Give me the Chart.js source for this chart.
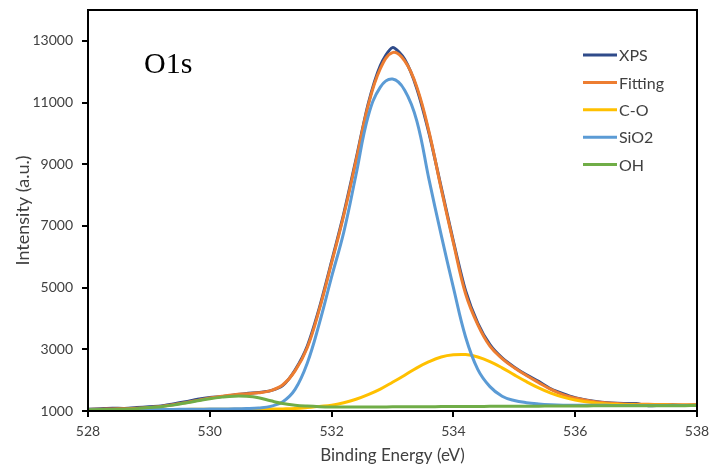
<!DOCTYPE html>
<html>
<head>
<meta charset="utf-8">
<script src="https://cdn.jsdelivr.net/npm/chart.js@4.4.1/dist/chart.umd.min.js"></script>
<style>
  html, body { margin: 0; padding: 0; background: #ffffff; }
  canvas { display: block; }
</style>
</head>
<body>
<canvas id="c" width="711" height="468"></canvas>
<script>
// ---- Data ----
const energies = [528.0,528.2,528.4,528.6,528.8,529.0,529.2,529.4,529.6,529.8,
                  530.0,530.2,530.4,530.6,530.8,531.0,531.2,531.4,531.6,531.8,
                  532.0,532.2,532.4,532.6,532.8,533.0,533.2,533.4,533.6,533.8,
                  534.0,534.2,534.4,534.6,534.8,535.0,535.2,535.4,535.6,535.8,
                  536.0,536.2,536.4,536.6,536.8,537.0,537.2,537.4,537.6,537.8,538.0];

const xps = [1060,1075,1090,1085,1110,1140,1160,1230,1300,1380,
             1440,1470,1520,1570,1600,1660,1830,2330,3100,4350,
             5850,7400,9150,10950,12200,12780,12400,11450,10000,8250,
             6500,4900,3850,3150,2720,2420,2170,1960,1720,1560,
             1430,1350,1290,1260,1245,1240,1170,1190,1200,1180,1200];

const fitting = [1050,1060,1065,1075,1090,1115,1150,1200,1270,1345,
                 1420,1480,1530,1560,1590,1660,1850,2300,3050,4300,
                 5800,7350,9100,10900,12100,12620,12350,11500,10050,8200,
                 6450,4800,3800,3100,2700,2400,2150,1920,1700,1530,
                 1420,1340,1285,1250,1230,1220,1215,1210,1205,1200,1200];

const cO = [1040,1042,1044,1046,1048,1050,1050,1052,1052,1054,
            1055,1056,1058,1060,1060,1062,1068,1080,1110,1150,
            1190,1270,1380,1530,1710,1930,2160,2400,2600,2750,
            2820,2830,2750,2600,2400,2170,1950,1750,1580,1450,
            1355,1290,1245,1220,1205,1198,1195,1192,1190,1190,1190];

const siO2 = [1040,1040,1042,1044,1046,1048,1050,1052,1055,1058,
              1062,1066,1070,1080,1100,1150,1300,1700,2550,3850,
              5350,6800,8650,10550,11500,11760,11400,10400,8500,6700,
              5000,3400,2350,1790,1480,1340,1270,1230,1205,1190,
              1185,1184,1183,1182,1182,1181,1181,1180,1180,1180,1180];

const oh = [1040,1045,1050,1060,1075,1110,1140,1190,1260,1330,
            1400,1450,1480,1475,1430,1330,1240,1190,1160,1140,
            1130,1128,1128,1130,1132,1134,1136,1138,1140,1142,
            1144,1146,1148,1150,1152,1154,1156,1158,1160,1162,
            1164,1166,1167,1168,1169,1170,1171,1172,1173,1174,1175];

const seriesNames = ['XPS', 'Fitting', 'C-O', 'SiO2', 'OH'];
const seriesColors = ['#2F4B8A', '#ED7D31', '#FFC000', '#5B9BD5', '#70AD47'];
const seriesValues = [xps, fitting, cO, siO2, oh];

const yTickValues = [1000, 3000, 5000, 7000, 9000, 11000, 13000];
const xTickValues = [528, 530, 532, 534, 536, 538];
const chartTitle = 'O1s';
const xAxisTitle = 'Binding Energy (eV)';
const yAxisTitle = 'Intensity (a.u.)';

// ---- Build datasets ----
const datasets = seriesValues.map((vals, i) => ({
  label: seriesNames[i],
  data: energies.map((e, k) => ({ x: e, y: vals[k] })),
  borderColor: seriesColors[i],
  backgroundColor: seriesColors[i],
  borderWidth: 3,
  pointRadius: 0,
  fill: false,
  tension: i === 0 ? 0.25 : 0.4,
  order: seriesNames.length - i
}));

const framePlugin = {
  id: 'frame',
  afterDatasetsDraw(chart) {
    const { ctx, chartArea: a } = chart;
    ctx.save();
    ctx.strokeStyle = '#000';
    ctx.lineWidth = 2;
    ctx.strokeRect(a.left, a.top, a.right - a.left, a.bottom - a.top);
    ctx.restore();
  }
};

const legendPlugin = {
  id: 'customLegend',
  afterDraw(chart) {
    const { ctx } = chart;
    ctx.save();
    ctx.font = '16px Lato';
    ctx.textBaseline = 'middle';
    chart.data.datasets.forEach((ds, i) => {
      const y = 55 + i * 27.4;
      ctx.strokeStyle = ds.borderColor;
      ctx.lineWidth = 3;
      ctx.beginPath();
      ctx.moveTo(583, y);
      ctx.lineTo(617, y);
      ctx.stroke();
      ctx.fillStyle = '#404040';
      ctx.fillText(ds.label, 619, y + 1);
    });
    ctx.restore();
  }
};

const titlePlugin = {
  id: 'innerTitle',
  afterDraw(chart) {
    const { ctx } = chart;
    ctx.save();
    ctx.font = '30px "Liberation Serif"';
    ctx.fillStyle = '#000';
    ctx.textBaseline = 'alphabetic';
    ctx.fillText(chartTitle, 144, 73);
    ctx.restore();
  }
};

const plainNumber = (v) => String(v);

new Chart(document.getElementById('c'), {
  type: 'line',
  data: { datasets },
  options: {
    responsive: false,
    animation: false,
    devicePixelRatio: 1,
    layout: { padding: { top: 10, right: 14, bottom: 0, left: 0 } },
    plugins: { legend: { display: false }, tooltip: { enabled: false } },
    scales: {
      x: {
        type: 'linear',
        min: 528, max: 538,
        afterFit(s) { s.height = 57; s.paddingLeft = 0; s.paddingRight = 0; },
        afterBuildTicks(s) { s.ticks = xTickValues.map(v => ({ value: v })); },
        border: { display: true, color: '#000', width: 2 },
        grid: { drawOnChartArea: false, drawTicks: true, tickLength: 6, color: '#000', lineWidth: 2 },
        ticks: { color: '#404040', font: { family: 'Lato', size: 14 }, padding: 6, maxRotation: 0, callback: plainNumber },
        title: { display: true, text: xAxisTitle, color: '#404040', font: { family: 'Lato', size: 17 }, padding: { top: 0, bottom: 2 } }
      },
      y: {
        type: 'linear',
        min: 1000, max: 14000,
        afterFit(s) { s.width = 88; s.paddingTop = 0; s.paddingBottom = 0; },
        afterBuildTicks(s) { s.ticks = yTickValues.map(v => ({ value: v })); },
        border: { display: true, color: '#000', width: 2 },
        grid: { drawOnChartArea: false, drawTicks: true, tickLength: 6, color: '#000', lineWidth: 2 },
        ticks: { color: '#404040', font: { family: 'Lato', size: 14 }, padding: 9, callback: plainNumber },
        title: { display: true, text: yAxisTitle, color: '#404040', font: { family: 'Lato', size: 18 }, padding: { top: 12, bottom: 0 } }
      }
    }
  },
  plugins: [framePlugin, legendPlugin, titlePlugin]
});
</script>
</body>
</html>
